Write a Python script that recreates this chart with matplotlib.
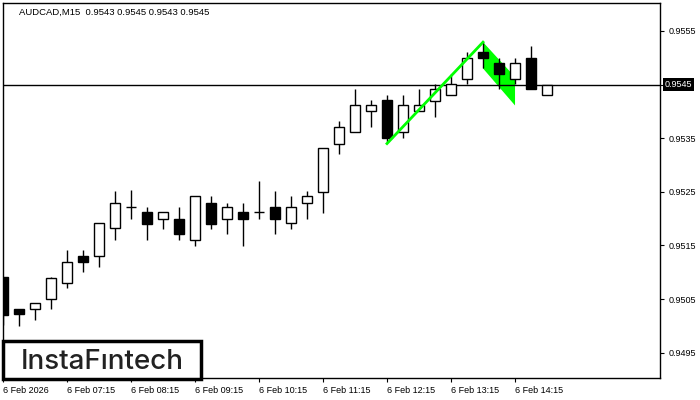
import matplotlib
matplotlib.use("Agg")
import matplotlib.pyplot as plt
from matplotlib.patches import Rectangle, Polygon

# AUDCAD M15, velas desde 06:15
opens = [0.95091, 0.95031, 0.95031, 0.95051, 0.95081, 0.95131, 0.95131, 0.95182, 0.95221,
         0.95212, 0.95200, 0.95200, 0.95160, 0.95230, 0.95200, 0.95212, 0.95212, 0.95221,
         0.95191, 0.95230, 0.95250, 0.95340, 0.95361, 0.95400, 0.95421, 0.95361, 0.95400,
         0.95420, 0.95430, 0.95461, 0.95510, 0.95491, 0.95461, 0.95500, 0.95430]
closes = [0.95020, 0.95022, 0.95042, 0.95090, 0.95120, 0.95119, 0.95191, 0.95229, 0.95221,
          0.95190, 0.95212, 0.95171, 0.95242, 0.95190, 0.95221, 0.95200, 0.95212, 0.95200,
          0.95221, 0.95242, 0.95331, 0.95370, 0.95411, 0.95411, 0.95351, 0.95411, 0.95411,
          0.95441, 0.95451, 0.95500, 0.95500, 0.95470, 0.95491, 0.95441, 0.95450]
highs = [0.95091, 0.95031, 0.95042, 0.95092, 0.95141, 0.95141, 0.95192, 0.95251, 0.95253,
         0.95221, 0.95213, 0.95221, 0.95242, 0.95242, 0.95230, 0.95230, 0.95270, 0.95251,
         0.95242, 0.95251, 0.95331, 0.95382, 0.95441, 0.95421, 0.95430, 0.95430, 0.95441,
         0.95451, 0.95470, 0.95510, 0.95529, 0.95500, 0.95500, 0.95521, 0.95450]
lows = [0.95002, 0.95000, 0.95011, 0.95031, 0.95071, 0.95101, 0.95110, 0.95160, 0.95200,
        0.95160, 0.95180, 0.95160, 0.95149, 0.95180, 0.95171, 0.95149, 0.95200, 0.95171,
        0.95180, 0.95200, 0.95211, 0.95321, 0.95361, 0.95370, 0.95343, 0.95351, 0.95400,
        0.95390, 0.95430, 0.95451, 0.95480, 0.95441, 0.95451, 0.95441, 0.95430]

# patron bandera (asta + bandera)
pole_x = [24, 30]
pole_y = [0.95340, 0.95529]
flag_x = [30, 32, 32, 30]
flag_y = [0.95529, 0.95464, 0.95411, 0.95480]

current_price = 0.9545
price_ticks = [0.9555, 0.9545, 0.9535, 0.9525, 0.9515, 0.9505, 0.9495]
time_pos = [0, 4, 8, 12, 16, 20, 24, 28, 32]
time_labels = ["6 Feb 2026", "6 Feb 07:15", "6 Feb 08:15", "6 Feb 09:15", "6 Feb 10:15",
               "6 Feb 11:15", "6 Feb 12:15", "6 Feb 13:15", "6 Feb 14:15"]
title = "AUDCAD,M15  0.9543 0.9545 0.9543 0.9545"

font = "Liberation Sans"
fs = 6.5

fig = plt.figure(figsize=(7, 4), dpi=100)
ax = fig.add_axes([2.5/700, 22/400, 657.5/700, 375/400])
ax.set_xlim(-0.03, 41.06)
ax.set_ylim(0.94903, 0.95602)

# bandera (debajo de las velas)
ax.add_patch(Polygon(list(zip(flag_x, flag_y)), closed=True, facecolor="#00ff00",
                     edgecolor="none", zorder=1))
ax.axhline(current_price, color="black", lw=1, zorder=2)

w = 0.68
for i in range(len(opens)):
    o, c, h, l = opens[i], closes[i], highs[i], lows[i]
    ax.vlines(i, l, h, color="black", lw=1, zorder=3)
    bottom = min(o, c)
    height = max(abs(c - o), 0.000005)
    fc = "white" if c >= o else "black"
    ax.bar(i, height, bottom=bottom, width=w, facecolor=fc, edgecolor="black",
           linewidth=1, zorder=4)

ax.plot(pole_x, pole_y, color="#00ff00", lw=2, zorder=5)

# ejes estilo MT4
for s in ax.spines.values():
    s.set_color("black")
    s.set_linewidth(1)
ax.yaxis.tick_right()
ax.set_yticks(price_ticks)
ax.set_yticklabels(["" if p == current_price else f"{p:.4f}" for p in price_ticks],
                   fontfamily=font, fontsize=fs)
ax.tick_params(axis="y", direction="out", length=3, pad=3, colors="black")
ax.set_xticks(time_pos)
ax.set_xticklabels(time_labels, fontfamily=font, fontsize=fs, ha="left")
ax.tick_params(axis="x", direction="out", length=3, pad=3, colors="black")

# etiqueta del precio actual
ax.annotate(f"{current_price:.4f}", xy=(1.0, current_price), xycoords=ax.get_yaxis_transform(),
            xytext=(3.6, 0), textcoords="offset points", ha="left", va="center",
            color="white", fontfamily=font, fontsize=fs,
            bbox=dict(boxstyle="square,pad=0.2", facecolor="black", edgecolor="none"),
            annotation_clip=False)

fig.text(19/700, 1 - 12/400, title, fontfamily=font, fontsize=6.8, va="center", ha="left")

# logo
fig.patches.append(Rectangle((3/700, (400-379)/400), 198/700, 38/400, transform=fig.transFigure,
                             facecolor="white", edgecolor="black", linewidth=2.5, zorder=10))
fig.text(102/700, (400-369.3)/400, "InstaFıntech", fontfamily="Inter", fontsize=20,
         fontweight="medium", color="#222222", ha="center", va="baseline", zorder=11)

fig.savefig("out.png", dpi=100)
